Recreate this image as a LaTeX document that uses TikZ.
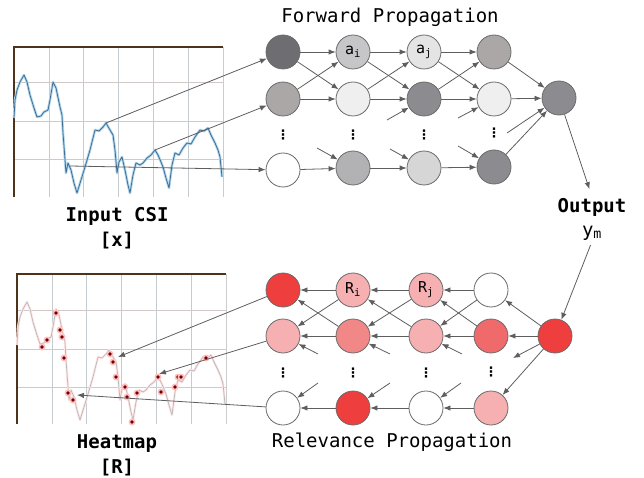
\documentclass[tikz,border=0pt]{standalone}
\usepackage{fontspec}
\setmonofont{DejaVu Sans Mono}
\newfontfamily\dotfont{DejaVu Sans}
\usetikzlibrary{arrows.meta}
\definecolor{wire}{HTML}{5E5E5E}
\definecolor{rim}{HTML}{6A6A6A}
\definecolor{grayA}{HTML}{6E6E72}
\definecolor{grayB}{HTML}{8C8C90}
\definecolor{grayC}{HTML}{ABA7A7}
\definecolor{grayD}{HTML}{C6C6C8}
\definecolor{grayE}{HTML}{D6D6D6}
\definecolor{grayF}{HTML}{EFEFEF}
\definecolor{redA}{HTML}{EE3E3E}
\definecolor{redB}{HTML}{F06A6C}
\definecolor{redC}{HTML}{F28787}
\definecolor{redD}{HTML}{F6B0B2}
\definecolor{csiblue}{HTML}{3E6E96}
\definecolor{csihalo}{HTML}{B4D8EC}
\definecolor{gridv}{HTML}{C4CCD2}
\definecolor{gridh}{HTML}{D2C8C8}
\newcommand{\csicurve}{(14,118) -- (15,100) -- (17,90) -- (20,82) -- (24,75) -- (27,82) -- (30,95) -- (34,108) -- (37,117) -- (41,116) -- (44,112) -- (48,110) -- (50,100) -- (53,82) -- (56,88) -- (60,107) -- (62,115) -- (63,133) -- (66,173) -- (68,163) -- (71,170) -- (74,183) -- (77,193) -- (81,180) -- (85,167) -- (90,150) -- (95,130) -- (99,131) -- (103,127) -- (106,123) -- (110,130) -- (113,135) -- (115,150) -- (117,173) -- (119,162) -- (122,157) -- (125,170) -- (128,185) -- (130,193) -- (133,175) -- (136,163) -- (140,165) -- (143,163) -- (147,158) -- (151,155) -- (155,150) -- (158,155) -- (161,162) -- (163,167) -- (166,178) -- (169,188) -- (172,165) -- (175,153) -- (179,155) -- (183,148) -- (187,143) -- (191,144) -- (195,137) -- (200,130) -- (204,131) -- (208,128) -- (211,135) -- (215,143) -- (218,150) -- (220,157) -- (222,177)}
\newcommand{\plotgrid}{%
  \fill[white] (14,47) rectangle (223,197);
  \draw[gridv,line width=1pt] (49,47) -- (49,197) (83,47) -- (83,197) (118,47) -- (118,197) (153,47) -- (153,197) (188,47) -- (188,197);
  \draw[gridh,line width=1pt] (14,83) -- (223,83) (14,122) -- (223,122) (14,160) -- (223,160);
  \draw[brown!40!black,line width=1.4pt] (14,197) -- (14,47) -- (223,47);
  \draw[gray!40,line width=0.8pt] (223,47) -- (223,197);}
\begin{document}
\begin{tikzpicture}[x=1pt,y=-1pt,>={Latex[length=7pt,width=5.5pt]},
  neuron/.style={circle,draw=rim,line width=0.8pt,minimum size=34pt,inner sep=0pt,font=\ttfamily\fontsize{15}{15}\selectfont},
  link/.style={->,draw=wire,line width=0.8pt},
  skip/.style={inner sep=0pt,font=\dotfont\bfseries\fontsize{13}{13}\selectfont},
  title/.style={font=\ttfamily\fontsize{19}{22}\selectfont},
  caption/.style={font=\ttfamily\bfseries\fontsize{19}{25}\selectfont,align=center}]
 \useasboundingbox (0,0) rectangle (644,478);
 % input CSI plot
 \begin{scope}
  \plotgrid
  \draw[csihalo,line width=2.6pt,line join=round] \csicurve;
  \draw[csiblue,line width=0.8pt,line join=round] \csicurve;
  \coordinate (x1) at (106,123);
  \coordinate (x2) at (155,150);
  \coordinate (x3) at (70,166);
 \end{scope}
 % heatmap plot
 \begin{scope}[shift={(3,227)}]
  \plotgrid
  \draw[red!10,line width=2.4pt,line join=round] \csicurve;
  \draw[gray!55,line width=0.7pt,line join=round] \csicurve;
  \foreach \p in {(53,86),(57,103),(59,110),(61,131),(65,166),(70,173),(39,120),(44,113),(107,127),(110,135),(113,150),(122,160),(124,170),(134,166),(155,150),(158,165),(172,160),(175,150),(178,150),(203,131),(129,195)}
   {\fill[red!25] \p circle (3.5); \fill[red!45!black] \p circle (1.8);}
  \coordinate (h1) at (115,130);
  \coordinate (h2) at (156,147);
  \coordinate (h3) at (74,168);
 \end{scope}
 \node[caption] (csi) at (117,228) {Input CSI\\{[x]}};
 \node[caption] (heat) at (117,455) {Heatmap\\{[R]}};
 % forward propagation
 \node[title] (fwd) at (390,17) {Forward Propagation};
 \node[neuron,fill=grayA] (f11) at (283,52) {};
 \node[neuron,fill=grayC] (f12) at (283,99) {};
 \node[neuron,fill=white] (f13) at (283,170) {};
 \node[neuron,fill=grayD] (f21) at (353,52) {a\textsubscript{i}};
 \node[neuron,fill=grayF] (f22) at (353,99) {};
 \node[neuron,fill=grayD!90!black] (f23) at (353,168) {};
 \node[neuron,fill=grayF!90!gray] (f31) at (424,52) {a\textsubscript{j}};
 \node[neuron,fill=grayB] (f32) at (424,99) {};
 \node[neuron,fill=grayE] (f33) at (424,168) {};
 \node[neuron,fill=grayC] (f41) at (494,52) {};
 \node[neuron,fill=grayF] (f42) at (494,99) {};
 \node[neuron,fill=grayB] (f43) at (494,167) {};
 \node[neuron,fill=grayB] (fo) at (559,98) {};
 \node[skip] (fd1) at (283,135) {⋮};
 \node[skip] (fd2) at (353,135) {⋮};
 \node[skip] (fd3) at (424,135) {⋮};
 \node[skip] (fd4) at (494,133) {⋮};
 \draw[link] (x1) -- (f11);
 \draw[link] (x2) -- (f12);
 \draw[link] (x3) -- (f13);
 \draw[link] (f11) -- (f21); \draw[link] (f11) -- (f22); \draw[link] (f12) -- (f21);
 \draw[link] (f12) -- (f22); \draw[link] (f13) -- (f23);
 \draw[link] (f21) -- (f31); \draw[link] (f21) -- (f32); \draw[link] (f22) -- (f31);
 \draw[link] (f22) -- (f32); \draw[link] (f23) -- (f33);
 \draw[link] (f31) -- (f41); \draw[link] (f31) -- (f42); \draw[link] (f32) -- (f41);
 \draw[link] (f32) -- (f42); \draw[link] (f33) -- (f43);
 \draw[link] (f41) -- (fo); \draw[link] (f42) -- (fo); \draw[link] (f43) -- (fo);
 \coordinate (u23) at (317,148); \coordinate (u32) at (387,120);
 \coordinate (u33) at (390,149); \coordinate (u42) at (458,118);
 \coordinate (u43) at (458,146); \coordinate (uo) at (507,133);
 \draw[link] (u23) -- (f23); \draw[link] (u32) -- (f32); \draw[link] (u33) -- (f33);
 \draw[link] (u42) -- (f42); \draw[link] (u43) -- (f43); \draw[link] (uo) -- (fo);
 % output
 \node[caption,inner sep=1pt] (out) at (592,207) {Output};
 \node[font=\ttfamily\fontsize{19}{19}\selectfont,inner sep=1pt] (ym) at (592,233) {y\textsubscript{m}};
 \draw[link,shorten >=8pt] (fo) -- (out.north);
 % relevance propagation
 \node[title] (rel) at (392,442) {Relevance Propagation};
 \node[neuron,fill=redA] (r11) at (283,290) {};
 \node[neuron,fill=redD] (r12) at (283,336) {};
 \node[neuron,fill=white] (r13) at (283,408) {};
 \node[neuron,fill=redD] (r21) at (353,290) {R\textsubscript{i}};
 \node[neuron,fill=redC] (r22) at (353,336) {};
 \node[neuron,fill=redA] (r23) at (353,408) {};
 \node[neuron,fill=redD] (r31) at (426,290) {R\textsubscript{j}};
 \node[neuron,fill=redD] (r32) at (426,336) {};
 \node[neuron,fill=white] (r33) at (426,408) {};
 \node[neuron,fill=white] (r41) at (491,290) {};
 \node[neuron,fill=redB] (r42) at (491,336) {};
 \node[neuron,fill=redD] (r43) at (491,408) {};
 \node[neuron,fill=redA] (ro) at (555,336) {};
 \node[skip] (rd1) at (283,373) {⋮};
 \node[skip] (rd2) at (353,373) {⋮};
 \node[skip] (rd3) at (426,373) {⋮};
 \node[skip] (rd4) at (491,372) {⋮};
 \draw[link,shorten <=4pt] (ym.south) -- (ro);
 \draw[link] (ro) -- (r41); \draw[link] (ro) -- (r42); \draw[link] (ro) -- (r43);
 \coordinate (v4) at (513,358); \draw[link] (ro) -- (v4);
 \draw[link] (r41) -- (r31); \draw[link] (r41) -- (r32); \draw[link] (r42) -- (r31);
 \draw[link] (r42) -- (r32); \draw[link] (r43) -- (r33);
 \draw[link] (r31) -- (r21); \draw[link] (r31) -- (r22); \draw[link] (r32) -- (r21);
 \draw[link] (r32) -- (r22); \draw[link] (r33) -- (r23);
 \draw[link] (r21) -- (r11); \draw[link] (r21) -- (r12); \draw[link] (r22) -- (r11);
 \draw[link] (r22) -- (r12); \draw[link] (r23) -- (r13);
 \coordinate (v12) at (318,354); \coordinate (v13) at (318,383);
 \coordinate (v22) at (390,354); \coordinate (v23) at (390,383);
 \coordinate (v32) at (462,354); \coordinate (v33) at (461,383);
 \draw[link] (v12) -- (r12); \draw[link] (v13) -- (r13);
 \draw[link] (v22) -- (r22); \draw[link] (v23) -- (r23);
 \draw[link] (v32) -- (r32); \draw[link] (v33) -- (r33);
 \draw[link] (r11) -- (h1); \draw[link] (r12) -- (h2); \draw[link] (r13) -- (h3);
\end{tikzpicture}
\end{document}
